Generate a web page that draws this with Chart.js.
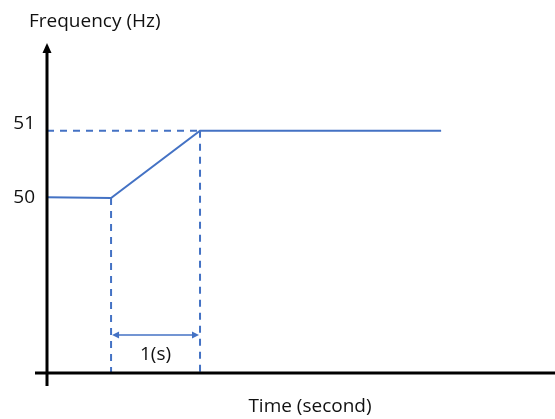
<!DOCTYPE html>
<html>
<head>
<meta charset="utf-8">
<script src="https://cdn.jsdelivr.net/npm/chart.js@4/dist/chart.umd.min.js"></script>
<style>
  html, body { margin: 0; padding: 0; background: #fff; }
  #wrap { width: 555px; height: 419px; position: relative; }
</style>
</head>
<body>
<div id="wrap"><canvas id="freqChart"></canvas></div>
<script>
// Frequency step response sketch

const times = [0, 0.72, 1.72, 4.43];          // seconds
const freqs = [50, 49.99, 51, 51];             // Hz
const stepTime = 0.72;                         // start of ramp
const rampEnd = 1.72;                          // end of ramp (1 s later)
const tickValues = [50, 51];
const tickLabels = ['50', '51'];
const spanLabel = '1(s)';
const spanLevel = 47.93;                       // height of the 1(s) dimension arrow
const xMin = 0, xMax = 5.71;
const yMin = 47.36, yMax = 52.32;

const blue = '#4472C4';
const font = '"Open Sans", "Liberation Sans", sans-serif';

function arrowHead(ctx, x, y, dir, len, half) {
    // dir: 'up', 'left', 'right'
    ctx.beginPath();
    if (dir === 'up') {
        ctx.moveTo(x, y);
        ctx.lineTo(x - half, y + len);
        ctx.lineTo(x + half, y + len);
    } else if (dir === 'left') {
        ctx.moveTo(x, y);
        ctx.lineTo(x + len, y - half);
        ctx.lineTo(x + len, y + half);
    } else {
        ctx.moveTo(x, y);
        ctx.lineTo(x - len, y - half);
        ctx.lineTo(x - len, y + half);
    }
    ctx.closePath();
    ctx.fill();
}

const sketchPlugin = {
    id: 'sketch',
    afterDatasetsDraw(chart) {
        const ctx = chart.ctx;
        const xs = chart.scales.x;
        const ys = chart.scales.y;
        const x0 = xs.getPixelForValue(xMin);
        const yBase = ys.getPixelForValue(yMin);
        const yTop = ys.getPixelForValue(yMax);
        ctx.save();

        // axes
        ctx.strokeStyle = '#000';
        ctx.fillStyle = '#000';
        ctx.lineWidth = 3;
        ctx.beginPath();
        ctx.moveTo(x0, yTop + 8);
        ctx.lineTo(x0, yBase + 13);
        ctx.moveTo(x0 - 12, yBase);
        ctx.lineTo(xs.getPixelForValue(xMax), yBase);
        ctx.stroke();
        arrowHead(ctx, x0, yTop, 'up', 10, 4.5);

        // y tick labels
        ctx.font = '19px ' + font;
        ctx.textAlign = 'right';
        ctx.textBaseline = 'middle';
        ctx.fillStyle = '#111';
        tickValues.forEach((v, i) => {
            const off = v === 51 ? -7 : 0;
            ctx.fillText(tickLabels[i], 35, ys.getPixelForValue(v) + off);
        });

        // titles
        ctx.textAlign = 'left';
        ctx.font = '19px ' + font;
        ctx.fillText('Frequency (Hz)', 29, 22);
        ctx.textAlign = 'center';
        ctx.fillText('Time (second)', 310, 407);

        // dimension arrow
        const xa = xs.getPixelForValue(stepTime);
        const xb = xs.getPixelForValue(rampEnd);
        const ya = ys.getPixelForValue(spanLevel);
        ctx.strokeStyle = blue;
        ctx.fillStyle = blue;
        ctx.lineWidth = 1.5;
        ctx.beginPath();
        ctx.moveTo(xa + 4, ya);
        ctx.lineTo(xb - 4, ya);
        ctx.stroke();
        arrowHead(ctx, xa + 1, ya, 'left', 7, 3.5);
        arrowHead(ctx, xb - 1, ya, 'right', 7, 3.5);

        ctx.fillStyle = '#111';
        ctx.font = '19px ' + font;
        ctx.textBaseline = 'middle';
        ctx.fillText(spanLabel, (xa + xb) / 2, ya + 20);
        ctx.restore();
    }
};

const dashed = {
    borderColor: blue,
    borderWidth: 2,
    borderDash: [7, 6],
    pointRadius: 0,
    fill: false
};

new Chart(document.getElementById('freqChart'), {
    type: 'line',
    data: {
        datasets: [
            {
                data: times.map((t, i) => ({ x: t, y: freqs[i] })),
                borderColor: blue,
                borderWidth: 2,
                pointRadius: 0,
                tension: 0,
                fill: false
            },
            { ...dashed, data: [{ x: xMin, y: 51 }, { x: rampEnd, y: 51 }] },
            { ...dashed, data: [{ x: stepTime, y: freqs[1] }, { x: stepTime, y: yMin }] },
            { ...dashed, data: [{ x: rampEnd, y: 51 }, { x: rampEnd, y: yMin }] }
        ]
    },
    options: {
        responsive: true,
        maintainAspectRatio: false,
        animation: false,
        layout: { padding: { left: 47, right: 0, top: 43, bottom: 46 } },
        plugins: {
            legend: { display: false },
            tooltip: { enabled: false }
        },
        scales: {
            x: { type: 'linear', min: xMin, max: xMax, display: false },
            y: { type: 'linear', min: yMin, max: yMax, display: false }
        }
    },
    plugins: [sketchPlugin]
});
</script>
</body>
</html>
